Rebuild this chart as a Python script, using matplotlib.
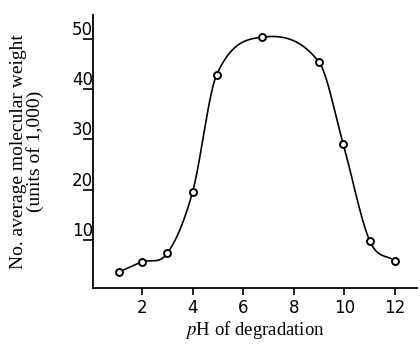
import numpy as np
import matplotlib
matplotlib.use("Agg")
import matplotlib.pyplot as plt

# pH of degradation vs number-average molecular weight (units of 1,000)
ph = [1.1, 2.0, 3.0, 4.0, 4.95, 6.75, 9.0, 9.95, 11.0, 12.0]
mol_weight = [3.6, 5.6, 7.3, 19.5, 42.8, 50.3, 45.3, 29.1, 9.8, 5.8]
xticks = [2, 4, 6, 8, 10, 12]
yticks = [10, 20, 30, 40, 50]


def hermite_curve(x, y, n=60):
    # smooth drawn curve through the points (centred-difference tangents)
    x = np.asarray(x, float)
    y = np.asarray(y, float)
    m = np.empty_like(y)
    m[1:-1] = (y[2:] - y[:-2]) / (x[2:] - x[:-2])
    m[0] = (y[1] - y[0]) / (x[1] - x[0])
    m[-1] = (y[-1] - y[-2]) / (x[-1] - x[-2])
    xs_all, ys_all = [], []
    for k in range(len(x) - 1):
        h = x[k + 1] - x[k]
        t = np.linspace(0, 1, n)
        h00 = 2 * t**3 - 3 * t**2 + 1
        h10 = t**3 - 2 * t**2 + t
        h01 = -2 * t**3 + 3 * t**2
        h11 = t**3 - t**2
        xs_all.append(x[k] + t * h)
        ys_all.append(h00 * y[k] + h10 * h * m[k] + h01 * y[k + 1] + h11 * h * m[k + 1])
    return np.concatenate(xs_all), np.concatenate(ys_all)


plt.rcParams['mathtext.fontset'] = 'stix'

fig = plt.figure(figsize=(4.2, 3.5), dpi=100)
ax = fig.add_axes([0.221, 0.177, 0.772, 0.78])

cx, cy = hermite_curve(ph, mol_weight)
ax.plot(cx, cy, color='black', lw=1.2)
ax.plot(ph, mol_weight, 'o', ms=5, mfc='white', mec='black', mew=1.4)

ax.set_xlim(0.06, 12.87)
ax.set_ylim(0.4, 54.7)
ax.set_xticks(xticks)
ax.set_yticks(yticks)
ax.spines['top'].set_visible(False)
ax.spines['right'].set_visible(False)
ax.spines['left'].set_linewidth(1.3)
ax.spines['bottom'].set_linewidth(1.3)

ax.tick_params(axis='x', direction='out', length=5, width=1.2, pad=3, labelsize=12)
ax.tick_params(axis='y', direction='out', length=7, width=1.2, pad=-7, labelsize=12)
for lab in ax.get_yticklabels():
    lab.set_verticalalignment('bottom')

ax.set_xlabel('$p$H of degradation', family='Liberation Serif', fontsize=13.5, labelpad=1)
ax.set_ylabel('No. average molecular weight\n(units of 1,000)', family='Liberation Serif',
              fontsize=14, labelpad=20, linespacing=0.95)

fig.savefig('out.png', dpi=100)
